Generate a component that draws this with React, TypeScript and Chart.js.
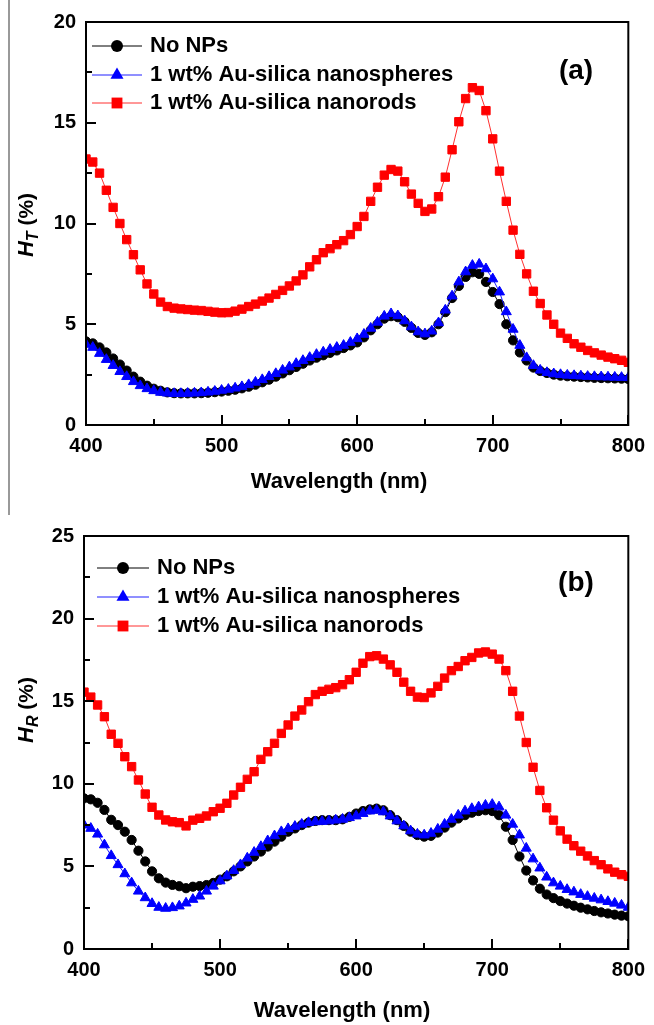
import React, { useEffect, useRef } from "react";
import { Chart, registerables } from "chart.js";
Chart.register(...registerables);

const wavelength = [
  400, 405, 410, 415, 420, 425, 430, 435, 440, 445, 450, 455, 460, 465, 470, 475, 480, 485, 490, 495,
  500, 505, 510, 515, 520, 525, 530, 535, 540, 545, 550, 555, 560, 565, 570, 575, 580, 585, 590, 595,
  600, 605, 610, 615, 620, 625, 630, 635, 640, 645, 650, 655, 660, 665, 670, 675, 680, 685, 690, 695,
  700, 705, 710, 715, 720, 725, 730, 735, 740, 745, 750, 755, 760, 765, 770, 775, 780, 785, 790, 795,
  800,
];

// (a) H_T
const tNoNPs = [
  4.15, 4.05, 3.85, 3.6, 3.3, 3.0, 2.7, 2.4, 2.15, 1.95, 1.8, 1.7, 1.62, 1.58, 1.57, 1.57, 1.57, 1.58, 1.6, 1.63,
  1.66, 1.7, 1.75, 1.82, 1.9, 2.0, 2.12, 2.25, 2.4, 2.56, 2.72, 2.88, 3.04, 3.2, 3.34, 3.46, 3.58, 3.7, 3.82, 3.95,
  4.1, 4.35, 4.7, 5.0, 5.28, 5.4, 5.35, 5.12, 4.82, 4.57, 4.47, 4.6, 5.0, 5.6, 6.3, 6.9, 7.35, 7.58, 7.5, 7.1,
  6.6, 6.0, 5.0, 4.2, 3.6, 3.2, 2.85, 2.68, 2.58, 2.5, 2.45, 2.42, 2.4, 2.38, 2.36, 2.34, 2.33, 2.32, 2.31, 2.3,
  2.28,
];
const tSpheres = [
  4.0, 3.85, 3.55, 3.25, 2.95, 2.65, 2.4, 2.15, 1.95, 1.8, 1.7, 1.62, 1.58, 1.56, 1.56, 1.57, 1.58, 1.6, 1.63, 1.67,
  1.72, 1.77, 1.83, 1.9, 2.0, 2.12, 2.25, 2.4, 2.55, 2.72, 2.88, 3.05, 3.2, 3.35, 3.5, 3.62, 3.75, 3.85, 3.95, 4.1,
  4.28, 4.5, 4.8, 5.1, 5.4, 5.52, 5.42, 5.17, 4.87, 4.62, 4.52, 4.66, 5.07, 5.7, 6.4, 7.1, 7.6, 7.92, 7.98, 7.75,
  7.25, 6.6, 5.62, 4.75, 3.95, 3.34, 2.95, 2.72, 2.6, 2.54, 2.5, 2.47, 2.45, 2.43, 2.41, 2.4, 2.39, 2.38, 2.37, 2.36,
  2.35,
];
const tRods = [
  13.2, 13.05, 12.5, 11.65, 10.8, 10.0, 9.2, 8.45, 7.7, 7.0, 6.5, 6.1, 5.88, 5.8, 5.76, 5.73, 5.7, 5.68, 5.64, 5.6,
  5.57, 5.58, 5.65, 5.75, 5.88, 6.0, 6.15, 6.3, 6.48, 6.68, 6.9, 7.15, 7.45, 7.85, 8.2, 8.55, 8.75, 8.95, 9.15, 9.45,
  9.85, 10.35, 11.1, 11.8, 12.4, 12.68, 12.6, 12.07, 11.46, 11.0, 10.6, 10.72, 11.33, 12.3, 13.66, 15.05, 16.2, 16.74, 16.6, 15.6,
  14.2, 12.6, 11.1, 9.67, 8.47, 7.5, 6.64, 6.03, 5.46, 5.0, 4.56, 4.3, 4.03, 3.86, 3.7, 3.58, 3.47, 3.37, 3.29, 3.21,
  3.11,
];

// (b) H_R
const rNoNPs = [
  9.12, 9.06, 8.85, 8.42, 7.82, 7.5, 7.1, 6.6, 5.95, 5.3, 4.7, 4.28, 4.02, 3.88, 3.8, 3.68, 3.77, 3.81, 3.87, 4.0,
  4.2, 4.4, 4.7, 5.0, 5.3, 5.6, 5.9, 6.2, 6.5, 6.8, 7.1, 7.3, 7.5, 7.65, 7.75, 7.8, 7.8, 7.8, 7.85, 8.0,
  8.2, 8.35, 8.45, 8.5, 8.4, 8.1, 7.8, 7.45, 7.1, 6.9, 6.8, 6.85, 7.05, 7.35, 7.65, 7.9, 8.1, 8.25, 8.35, 8.4,
  8.35, 8.1, 7.4, 6.6, 5.6, 4.75, 4.15, 3.65, 3.3, 3.08, 2.9, 2.75, 2.62, 2.5, 2.4, 2.3, 2.22, 2.15, 2.08, 2.02,
  1.98,
];
const rSpheres = [
  7.5, 7.3, 6.95, 6.3, 5.65, 5.1, 4.55, 4.0, 3.5, 3.1, 2.75, 2.52, 2.46, 2.5, 2.6, 2.78, 3.0, 3.2, 3.5, 3.8,
  4.12, 4.42, 4.75, 5.1, 5.5, 5.85, 6.2, 6.55, 6.85, 7.1, 7.28, 7.42, 7.55, 7.65, 7.7, 7.72, 7.75, 7.8, 7.85, 7.95,
  8.05, 8.2, 8.35, 8.4, 8.3, 8.05, 7.75, 7.45, 7.15, 6.95, 6.9, 7.0, 7.25, 7.55, 7.85, 8.1, 8.35, 8.5, 8.6, 8.7,
  8.75, 8.6, 8.1, 7.55, 6.9, 6.1, 5.45, 4.9, 4.35, 4.0, 3.8, 3.6, 3.45, 3.3, 3.18, 3.07, 2.97, 2.87, 2.77, 2.65,
  2.52,
];
const rRods = [
  15.55, 15.25, 14.77, 14.06, 13.0, 12.45, 11.64, 11.04, 10.23, 9.38, 8.58, 8.11, 7.81, 7.7, 7.65, 7.45, 7.8, 7.91, 8.05, 8.31,
  8.52, 8.82, 9.32, 9.79, 10.27, 10.73, 11.48, 11.94, 12.45, 13.05, 13.56, 14.1, 14.47, 14.97, 15.4, 15.6, 15.72, 15.82, 16.0, 16.3,
  16.75, 17.3, 17.7, 17.75, 17.55, 17.2, 16.75, 16.15, 15.6, 15.25, 15.22, 15.5, 15.9, 16.4, 16.85, 17.1, 17.45, 17.65, 17.92, 17.98,
  17.85, 17.55, 16.85, 15.6, 14.1, 12.5, 11.0, 9.6, 8.55, 7.8, 7.15, 6.65, 6.25, 5.92, 5.63, 5.35, 5.1, 4.85, 4.65, 4.5,
  4.4,
];

const seriesLabels = ["No NPs", "1 wt% Au-silica nanospheres", "1 wt% Au-silica nanorods"];
const xLabel = "Wavelength (nm)";
const xRange = [400, 800];
const topYRange = [0, 20];
const botYRange = [0, 25];

const FONT = '"Liberation Sans", Arial, Helvetica, sans-serif';
const COLORS = ["#000000", "#0000ff", "#ff0000"];
const LINE_COLORS = ["#000000", "#2020ff", "#ff3030"];
const STYLES = ["circle", "triangle", "rect"];
const RADII = [4.6, 5.8, 5.9];

function drawMarker(ctx: CanvasRenderingContext2D, style: string, x: number, y: number, r: number) {
  ctx.beginPath();
  if (style === "circle") {
    ctx.arc(x, y, r, 0, Math.PI * 2);
  } else if (style === "triangle") {
    for (let k = 0; k < 3; k++) {
      const a = (k * 2 * Math.PI) / 3;
      const px = x + Math.sin(a) * r;
      const py = y - Math.cos(a) * r;
      if (k === 0) ctx.moveTo(px, py);
      else ctx.lineTo(px, py);
    }
    ctx.closePath();
  } else {
    const s = Math.SQRT1_2 * r;
    ctx.rect(x - s, y - s, 2 * s, 2 * s);
  }
  ctx.fill();
}

const decorPlugin = {
  id: "decor",
  afterDraw(chart: any, _args: any, opts: any) {
    const { ctx, chartArea: a, scales } = chart;
    const xs = scales.x;
    const ys = scales.y;
    ctx.save();
    ctx.strokeStyle = "#000";
    ctx.fillStyle = "#000";
    ctx.lineWidth = 2;
    const drawTicks = (scale: any, horizontal: boolean) => {
      const t = scale.ticks.map((k: any) => k.value);
      const vals: { v: number; major: boolean }[] = [];
      for (let i = 0; i < t.length; i++) {
        vals.push({ v: t[i], major: true });
        if (i < t.length - 1) vals.push({ v: (t[i] + t[i + 1]) / 2, major: false });
      }
      vals.forEach(({ v, major }) => {
        const len = major ? 10 : 6;
        const p = Math.round(scale.getPixelForValue(v));
        ctx.beginPath();
        if (horizontal) {
          ctx.moveTo(p, a.bottom);
          ctx.lineTo(p, a.bottom - len);
        } else {
          ctx.moveTo(a.left, p);
          ctx.lineTo(a.left + len, p);
        }
        ctx.stroke();
      });
    };
    drawTicks(xs, true);
    drawTicks(ys, false);
    ctx.strokeRect(a.left, a.top, a.right - a.left, a.bottom - a.top);

    // x title
    ctx.font = `bold 22px ${FONT}`;
    ctx.textAlign = "center";
    ctx.textBaseline = "alphabetic";
    ctx.fillText(opts.xTitle, opts.xTitleX, opts.xTitleY);

    // y title
    ctx.save();
    ctx.translate(opts.yTitleX, opts.yTitleY);
    ctx.rotate(-Math.PI / 2);
    ctx.textAlign = "left";
    const f1 = `italic bold 22px ${FONT}`;
    const f2 = `italic bold 16px ${FONT}`;
    const f3 = `bold 21px ${FONT}`;
    ctx.font = f1;
    const w1 = ctx.measureText("H").width;
    ctx.font = f2;
    const w2 = ctx.measureText(opts.ySub).width;
    ctx.font = f3;
    const w3 = ctx.measureText(" (%)").width;
    let x = -(w1 + w2 + w3) / 2;
    ctx.font = f1;
    ctx.fillText("H", x, 0);
    x += w1;
    ctx.font = f2;
    ctx.fillText(opts.ySub, x, 5);
    x += w2;
    ctx.font = f3;
    ctx.fillText(" (%)", x, 0);
    ctx.restore();

    // legend
    const lg = opts.legend;
    chart.data.datasets.forEach((ds: any, i: number) => {
      const y = lg.rows[i];
      ctx.strokeStyle = ds.borderColor;
      ctx.lineWidth = 1;
      ctx.beginPath();
      ctx.moveTo(lg.x0, y);
      ctx.lineTo(lg.x1, y);
      ctx.stroke();
      ctx.fillStyle = COLORS[i];
      drawMarker(ctx, STYLES[i], lg.mx, y, RADII[i] * 1.3);
      ctx.fillStyle = "#000";
      ctx.font = `bold 22px ${FONT}`;
      ctx.textAlign = "left";
      ctx.textBaseline = "middle";
      ctx.fillText(ds.label, lg.tx, y);
    });

    // panel label
    ctx.font = `bold 28px ${FONT}`;
    ctx.textAlign = "center";
    ctx.textBaseline = "middle";
    ctx.fillText(opts.panel, opts.panelX, opts.panelY);
    ctx.restore();
  },
};

type PanelCfg = {
  width: number;
  height: number;
  left: number;
  top: number;
  right: number;
  bottom: number;
  yRange: number[];
  series: number[][];
  decor: any;
};

function Panel({ cfg }: { cfg: PanelCfg }) {
  const ref = useRef<HTMLCanvasElement | null>(null);
  useEffect(() => {
    if (!ref.current) return;
    const tickFont = { family: FONT, size: 20, weight: "bold" as const };
    const chart = new Chart(ref.current, {
      type: "line",
      data: {
        datasets: cfg.series.map((vals, i) => ({
          label: seriesLabels[i],
          data: wavelength.map((w, j) => ({ x: w, y: vals[j] })),
          borderColor: LINE_COLORS[i],
          backgroundColor: COLORS[i],
          borderWidth: 1,
          pointStyle: STYLES[i] as any,
          pointRadius: RADII[i],
          pointBorderWidth: 1,
          pointBorderColor: COLORS[i],
          pointBackgroundColor: COLORS[i],
          tension: 0,
          order: 3 - i,
        })),
      },
      options: {
        animation: false,
        responsive: false,
        devicePixelRatio: 1,
        events: [],
        layout: { padding: { top: cfg.top, right: cfg.width - cfg.right, left: 0, bottom: 0 } },
        plugins: {
          legend: { display: false },
          tooltip: { enabled: false },
          decor: cfg.decor,
        } as any,
        scales: {
          x: {
            type: "linear",
            min: xRange[0],
            max: xRange[1],
            ticks: { stepSize: 100, font: tickFont, color: "#000", padding: 9, maxRotation: 0 },
            grid: { display: false, drawTicks: false },
            border: { display: false },
            afterFit: (s: any) => {
              s.height = cfg.height - cfg.bottom;
            },
          },
          y: {
            type: "linear",
            min: cfg.yRange[0],
            max: cfg.yRange[1],
            ticks: { stepSize: 5, font: tickFont, color: "#000", padding: 10 },
            grid: { display: false, drawTicks: false },
            border: { display: false },
            afterFit: (s: any) => {
              s.width = cfg.left;
            },
          },
        },
      },
      plugins: [decorPlugin],
    });
    return () => chart.destroy();
  }, [cfg]);
  return <canvas ref={ref} width={cfg.width} height={cfg.height} style={{ display: "block", width: cfg.width, height: cfg.height }} />;
}

const topCfg: PanelCfg = {
  width: 654,
  height: 512,
  left: 86,
  top: 16,
  right: 632,
  bottom: 425,
  yRange: topYRange,
  series: [tNoNPs, tSpheres, tRods],
  decor: {
    xTitle: xLabel,
    xTitleX: 339,
    xTitleY: 488,
    yTitleX: 33,
    yTitleY: 225,
    ySub: "T",
    legend: { x0: 92, x1: 142, mx: 117, tx: 150, rows: [46, 75, 103] },
    panel: "(a)",
    panelX: 576,
    panelY: 71,
  },
};

const botCfg: PanelCfg = {
  width: 654,
  height: 513,
  left: 84,
  top: 24,
  right: 635,
  bottom: 437,
  yRange: botYRange,
  series: [rNoNPs, rSpheres, rRods],
  decor: {
    xTitle: xLabel,
    xTitleX: 342,
    xTitleY: 505,
    yTitleX: 33,
    yTitleY: 198,
    ySub: "R",
    legend: { x0: 97, x1: 149, mx: 123, tx: 157, rows: [56, 85, 114] },
    panel: "(b)",
    panelX: 576,
    panelY: 71,
  },
};

export default function App() {
  return (
    <div style={{ position: "absolute", left: 0, top: 0, width: 654, height: 1025, background: "#fff" }}>
      <div style={{ position: "absolute", left: 8, top: 0, width: 2, height: 515, background: "#999" }} />
      <div style={{ position: "absolute", left: 0, top: 0 }}>
        <Panel cfg={topCfg} />
      </div>
      <div style={{ position: "absolute", left: 0, top: 512 }}>
        <Panel cfg={botCfg} />
      </div>
    </div>
  );
}
